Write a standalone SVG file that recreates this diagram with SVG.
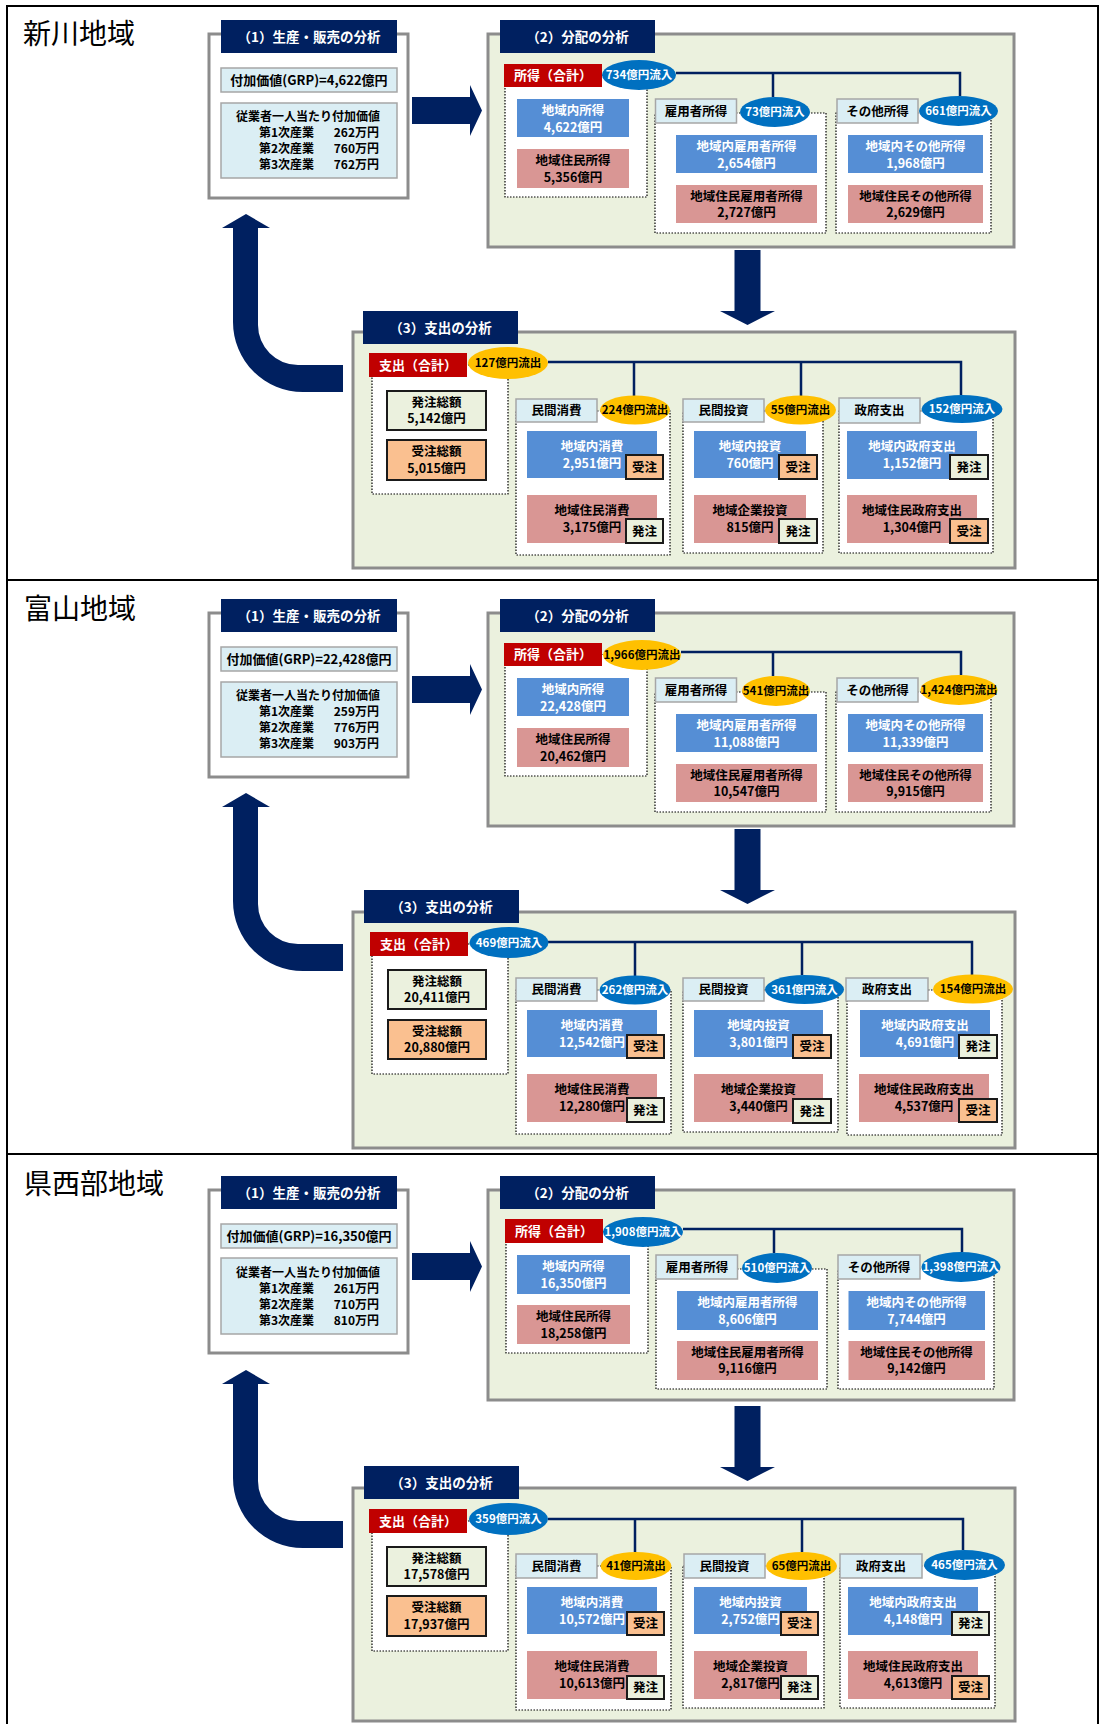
<svg xmlns="http://www.w3.org/2000/svg" width="1099" height="1724" viewBox="0 0 1099 1724">
<style>
.fw{fill:#fff;stroke:#8c8c8c;stroke-width:3}
.fr{fill:#ebf1de;stroke:#8c8c8c;stroke-width:3}
.nb{fill:#002060}
.lb{fill:#dbeef4;stroke:#a6a6a6;stroke-width:1.5}
.rd{fill:#c00000}
.eb{fill:#0070c0}
.ey{fill:#ffc000}
.bb{fill:#558ed5}
.pk{fill:#d99694}
.dt{fill:#fff;stroke:#000;stroke-width:1.2;stroke-dasharray:1.5 1.5}
.og{fill:#ebf1de;stroke:#1a1a1a;stroke-width:2}
.op{fill:#fac090;stroke:#1a1a1a;stroke-width:2}
.cn{fill:none;stroke:#002060;stroke-width:2.5}
.t{font-family:"Noto Sans CJK JP","Noto Sans CJK SC",sans-serif;font-weight:700;text-anchor:middle;fill:#000}
.w{fill:#fff}
.st{text-anchor:start}
.en{text-anchor:end}
.f14{font-size:13.5px}
.f13{font-size:13px}
.f12{font-size:12.5px}
.f11{font-size:12px}
.fe{font-size:11.5px}
.ttl{font-family:"Noto Sans CJK JP","Noto Sans CJK SC",sans-serif;font-size:28px;fill:#000}
</style>
<rect x="0" y="0" width="1099" height="1724" fill="#fff"/>
<g id="outer-frame" fill="none" stroke="#000" stroke-width="2">
<rect x="7" y="6" width="1091" height="1730"/>
<line x1="7" y1="580" x2="1099" y2="580"/>
<line x1="7" y1="1154" x2="1099" y2="1154"/>
</g>

<!-- ===== Section 1 ===== -->
<g id="s1">
<text class="ttl" x="23" y="44">新川地域</text>
<g id="s1-prod"><rect class="fw" x="209" y="34" width="199" height="164"/><rect class="nb" x="221" y="20" width="176" height="33"/><text class="t w f14" x="309" y="41.5">（1）生産・販売の分析</text></g>
<g id="s1-dist"><rect class="fr" x="488" y="34" width="526" height="213"/><rect class="nb" x="500" y="20" width="155" height="33"/><text class="t w f14" x="577.5" y="41.5">（2）分配の分析</text></g>
<g id="s1-exp"><rect class="fr" x="353" y="332" width="662" height="236"/><rect class="nb" x="363" y="311" width="155" height="33"/><text class="t w f14" x="440.5" y="332.5">（3）支出の分析</text></g>
<g id="s1-connectors">
<polygon class="nb" points="412,97 470,97 470,85 482,110.5 470,136 470,124 412,124"/>
<polygon class="nb" points="734.5,250 760.5,250 760.5,311 775,311 747.5,325 720,311 734.5,311"/>
<path class="nb" d="M233,228 V322 A70,70 0 0 0 303,392 H343 V365 H298 A40,40 0 0 1 258,325 V228 Z"/>
<polygon class="nb" points="222,228 270,228 246,214"/>
<path class="cn" d="M676,73 H960 V96 M773,73 V97"/>
<path class="cn" d="M548,362 H961 V395 M634,362 V396 M801,362 V396"/>
</g>
<g id="s1-grp"><rect class="lb" x="221" y="68" width="176" height="24"/><text class="t f13" x="309" y="84.5">付加価値(GRP)=4,622億円</text></g>
<g id="s1-perworker"><rect class="lb" x="221" y="103" width="176" height="75"/><text class="t f11" x="308" y="120.5">従業者一人当たり付加価値</text><text class="t f11 st" x="259" y="136.5">第1次産業</text><text class="t f11 en" x="379" y="136.5">262万円</text><text class="t f11 st" x="259" y="152.5">第2次産業</text><text class="t f11 en" x="379" y="152.5">760万円</text><text class="t f11 st" x="259" y="168.5">第3次産業</text><text class="t f11 en" x="379" y="168.5">762万円</text></g>
<g id="s1-inc"><rect class="dt" x="505" y="75.5" width="142" height="121.5"/><rect class="rd" x="504" y="64" width="98" height="23"/><text class="t w f13" x="553" y="80">所得（合計）</text><ellipse class="eb" cx="639" cy="75" rx="37" ry="15"/><text class="t w fe" x="639" y="79.2">734億円流入</text></g>
<g id="s1-inc-in"><rect class="bb" x="517" y="99" width="112" height="38"/><text class="t w f12" x="573" y="115">地域内所得</text><text class="t w f12" x="573" y="131.5">4,622億円</text></g>
<g id="s1-inc-res"><rect class="pk" x="517" y="149" width="112" height="39"/><text class="t f12" x="573" y="165">地域住民所得</text><text class="t f12" x="573" y="181.5">5,356億円</text></g>
<g id="s1-emp"><rect class="dt" x="655" y="113" width="171" height="120"/><rect class="lb" x="655.5" y="99" width="81" height="24"/><text class="t f12" x="696" y="115.5">雇用者所得</text><ellipse class="eb" cx="775" cy="112" rx="35" ry="15"/><text class="t w fe" x="775" y="116.2">73億円流入</text></g>
<g id="s1-emp-in"><rect class="bb" x="676" y="135" width="141" height="38"/><text class="t w f12" x="746.5" y="151">地域内雇用者所得</text><text class="t w f12" x="746.5" y="167.5">2,654億円</text></g>
<g id="s1-emp-res"><rect class="pk" x="676" y="185" width="141" height="38"/><text class="t f12" x="746.5" y="200.5">地域住民雇用者所得</text><text class="t f12" x="746.5" y="217">2,727億円</text></g>
<g id="s1-oth"><rect class="dt" x="836" y="113" width="155" height="120"/><rect class="lb" x="837" y="99" width="81" height="24"/><text class="t f12" x="877.5" y="115.5">その他所得</text><ellipse class="eb" cx="958.5" cy="111" rx="39.5" ry="15"/><text class="t w fe" x="958.5" y="115.2">661億円流入</text></g>
<g id="s1-oth-in"><rect class="bb" x="848" y="135" width="135" height="38"/><text class="t w f12" x="915.5" y="151">地域内その他所得</text><text class="t w f12" x="915.5" y="167.5">1,968億円</text></g>
<g id="s1-oth-res"><rect class="pk" x="848" y="185" width="135" height="38"/><text class="t f12" x="915.5" y="200.5">地域住民その他所得</text><text class="t f12" x="915.5" y="217">2,629億円</text></g>
<g id="s1-exp-total"><rect class="dt" x="372" y="365" width="136" height="129"/><rect class="rd" x="369" y="353" width="98" height="24"/><text class="t w f13" x="418" y="369.5">支出（合計）</text><ellipse class="ey" cx="508" cy="363" rx="40" ry="16"/><text class="t fe" x="508" y="367.2">127億円流出</text></g>
<g id="s1-order"><rect class="og" x="387" y="391" width="99" height="39"/><text class="t f12" x="436.5" y="406.5">発注総額</text><text class="t f12" x="436.5" y="423">5,142億円</text></g>
<g id="s1-recv"><rect class="op" x="387" y="440" width="99" height="40"/><text class="t f12" x="436.5" y="456">受注総額</text><text class="t f12" x="436.5" y="472.5">5,015億円</text></g>
<g id="s1-pc"><rect class="dt" x="516" y="411" width="154" height="144"/><rect class="lb" x="516" y="399" width="81" height="23"/><text class="t f12" x="556.5" y="415">民間消費</text><ellipse class="ey" cx="635" cy="410" rx="35" ry="14.5"/><text class="t fe" x="635" y="414.2">224億円流出</text></g>
<g id="s1-pc-in"><rect class="bb" x="527" y="431" width="130" height="47"/><text class="t w f12" x="592" y="451">地域内消費</text><text class="t w f12" x="592" y="467.5">2,951億円</text><rect class="op" x="626" y="455" width="37" height="24"/><text class="t f12" x="644.5" y="471.5">受注</text></g>
<g id="s1-pc-res"><rect class="pk" x="527" y="495" width="130" height="48"/><text class="t f12" x="592" y="515">地域住民消費</text><text class="t f12" x="592" y="532">3,175億円</text><rect class="og" x="626" y="519" width="37" height="24"/><text class="t f12" x="644.5" y="535.5">発注</text></g>
<g id="s1-pi"><rect class="dt" x="683" y="411" width="140" height="142"/><rect class="lb" x="683" y="399" width="81" height="23"/><text class="t f12" x="723.5" y="415">民間投資</text><ellipse class="ey" cx="800.5" cy="410" rx="35.5" ry="14.5"/><text class="t fe" x="800.5" y="414.2">55億円流出</text></g>
<g id="s1-pi-in"><rect class="bb" x="694" y="431" width="112" height="47"/><text class="t w f12" x="750" y="451">地域内投資</text><text class="t w f12" x="750" y="467.5">760億円</text><rect class="op" x="779" y="455" width="38" height="24"/><text class="t f12" x="798" y="471.5">受注</text></g>
<g id="s1-pi-res"><rect class="pk" x="694" y="495" width="112" height="48"/><text class="t f12" x="750" y="515">地域企業投資</text><text class="t f12" x="750" y="532">815億円</text><rect class="og" x="779" y="519" width="38" height="24"/><text class="t f12" x="798" y="535.5">発注</text></g>
<g id="s1-gov"><rect class="dt" x="839" y="411" width="154" height="142"/><rect class="lb" x="839" y="398" width="81" height="25"/><text class="t f12" x="879.5" y="415">政府支出</text><ellipse class="eb" cx="962" cy="409" rx="40.5" ry="14"/><text class="t w fe" x="962" y="413.2">152億円流入</text></g>
<g id="s1-gov-in"><rect class="bb" x="847" y="431" width="130" height="48"/><text class="t w f12" x="912" y="451">地域内政府支出</text><text class="t w f12" x="912" y="467.5">1,152億円</text><rect class="og" x="950" y="455" width="38" height="24"/><text class="t f12" x="969" y="471.5">発注</text></g>
<g id="s1-gov-res"><rect class="pk" x="847" y="495" width="130" height="48"/><text class="t f12" x="912" y="515">地域住民政府支出</text><text class="t f12" x="912" y="532">1,304億円</text><rect class="op" x="950" y="519" width="38" height="24"/><text class="t f12" x="969" y="535.5">受注</text></g>
</g>

<!-- ===== Section 2 ===== -->
<g id="s2" transform="translate(0,579)">
<text class="ttl" x="24" y="40">富山地域</text>
<g id="s2-prod"><rect class="fw" x="209" y="34" width="199" height="164"/><rect class="nb" x="221" y="20" width="176" height="33"/><text class="t w f14" x="309" y="41.5">（1）生産・販売の分析</text></g>
<g id="s2-dist"><rect class="fr" x="488" y="34" width="526" height="213"/><rect class="nb" x="500" y="20" width="155" height="33"/><text class="t w f14" x="577.5" y="41.5">（2）分配の分析</text></g>
<g id="s2-exp"><rect class="fr" x="353" y="333" width="662" height="236"/><rect class="nb" x="364" y="311" width="155" height="33"/><text class="t w f14" x="441.5" y="332.5">（3）支出の分析</text></g>
<g id="s2-connectors">
<polygon class="nb" points="412,97 470,97 470,85 482,110.5 470,136 470,124 412,124"/>
<polygon class="nb" points="734.5,250 760.5,250 760.5,311 775,311 747.5,325 720,311 734.5,311"/>
<path class="nb" d="M233,228 V322 A70,70 0 0 0 303,392 H343 V365 H298 A40,40 0 0 1 258,325 V228 Z"/>
<polygon class="nb" points="222,228 270,228 246,214"/>
<path class="cn" d="M681,73 H961 V96 M773,73 V97"/>
<path class="cn" d="M548,363 H972 V396 M635,363 V397 M802,363 V396"/>
</g>
<g id="s2-grp"><rect class="lb" x="221" y="68" width="176" height="24"/><text class="t f13" x="309" y="84.5">付加価値(GRP)=22,428億円</text></g>
<g id="s2-perworker"><rect class="lb" x="221" y="103" width="176" height="75"/><text class="t f11" x="308" y="120.5">従業者一人当たり付加価値</text><text class="t f11 st" x="259" y="136.5">第1次産業</text><text class="t f11 en" x="379" y="136.5">259万円</text><text class="t f11 st" x="259" y="152.5">第2次産業</text><text class="t f11 en" x="379" y="152.5">776万円</text><text class="t f11 st" x="259" y="168.5">第3次産業</text><text class="t f11 en" x="379" y="168.5">903万円</text></g>
<g id="s2-inc"><rect class="dt" x="505" y="75.5" width="142" height="121.5"/><rect class="rd" x="504" y="64" width="98" height="23"/><text class="t w f13" x="553" y="80">所得（合計）</text><ellipse class="ey" cx="642" cy="76" rx="39" ry="15"/><text class="t fe" x="642" y="80.2">1,966億円流出</text></g>
<g id="s2-inc-in"><rect class="bb" x="517" y="99" width="112" height="38"/><text class="t w f12" x="573" y="115">地域内所得</text><text class="t w f12" x="573" y="131.5">22,428億円</text></g>
<g id="s2-inc-res"><rect class="pk" x="517" y="149" width="112" height="39"/><text class="t f12" x="573" y="165">地域住民所得</text><text class="t f12" x="573" y="181.5">20,462億円</text></g>
<g id="s2-emp"><rect class="dt" x="655" y="113" width="171" height="120"/><rect class="lb" x="655.5" y="99" width="81" height="24"/><text class="t f12" x="696" y="115.5">雇用者所得</text><ellipse class="ey" cx="776" cy="112" rx="34" ry="15"/><text class="t fe" x="776" y="116.2">541億円流出</text></g>
<g id="s2-emp-in"><rect class="bb" x="676" y="135" width="141" height="38"/><text class="t w f12" x="746.5" y="151">地域内雇用者所得</text><text class="t w f12" x="746.5" y="167.5">11,088億円</text></g>
<g id="s2-emp-res"><rect class="pk" x="676" y="185" width="141" height="38"/><text class="t f12" x="746.5" y="200.5">地域住民雇用者所得</text><text class="t f12" x="746.5" y="217">10,547億円</text></g>
<g id="s2-oth"><rect class="dt" x="836" y="113" width="155" height="120"/><rect class="lb" x="837" y="99" width="81" height="24"/><text class="t f12" x="877.5" y="115.5">その他所得</text><ellipse class="ey" cx="959" cy="111" rx="38.5" ry="15"/><text class="t fe" x="959" y="115.2">1,424億円流出</text></g>
<g id="s2-oth-in"><rect class="bb" x="848" y="135" width="135" height="38"/><text class="t w f12" x="915.5" y="151">地域内その他所得</text><text class="t w f12" x="915.5" y="167.5">11,339億円</text></g>
<g id="s2-oth-res"><rect class="pk" x="848" y="185" width="135" height="38"/><text class="t f12" x="915.5" y="200.5">地域住民その他所得</text><text class="t f12" x="915.5" y="217">9,915億円</text></g>
<g id="s2-exp-total"><rect class="dt" x="372" y="365" width="136" height="130"/><rect class="rd" x="370" y="353" width="98" height="24"/><text class="t w f13" x="419" y="369.5">支出（合計）</text><ellipse class="eb" cx="509" cy="363.5" rx="39.5" ry="15.5"/><text class="t w fe" x="509" y="367.7">469億円流入</text></g>
<g id="s2-order"><rect class="og" x="388" y="391" width="98" height="39"/><text class="t f12" x="437" y="406.5">発注総額</text><text class="t f12" x="437" y="423">20,411億円</text></g>
<g id="s2-recv"><rect class="op" x="388" y="441" width="98" height="39"/><text class="t f12" x="437" y="456.5">受注総額</text><text class="t f12" x="437" y="473">20,880億円</text></g>
<g id="s2-pc"><rect class="dt" x="516" y="411" width="155" height="144"/><rect class="lb" x="516" y="399" width="81" height="23"/><text class="t f12" x="556.5" y="415">民間消費</text><ellipse class="eb" cx="635" cy="411" rx="35.5" ry="14.5"/><text class="t w fe" x="635" y="415.2">262億円流入</text></g>
<g id="s2-pc-in"><rect class="bb" x="527" y="431" width="130" height="47"/><text class="t w f12" x="592" y="451">地域内消費</text><text class="t w f12" x="592" y="467.5">12,542億円</text><rect class="op" x="627" y="456" width="37" height="23"/><text class="t f12" x="645.5" y="472">受注</text></g>
<g id="s2-pc-res"><rect class="pk" x="527" y="495" width="130" height="48"/><text class="t f12" x="592" y="515">地域住民消費</text><text class="t f12" x="592" y="532">12,280億円</text><rect class="og" x="627" y="519" width="37" height="24"/><text class="t f12" x="645.5" y="535.5">発注</text></g>
<g id="s2-pi"><rect class="dt" x="683" y="411" width="155" height="142"/><rect class="lb" x="683" y="399" width="81" height="23"/><text class="t f12" x="723.5" y="415">民間投資</text><ellipse class="eb" cx="804.5" cy="410.5" rx="39.5" ry="14.5"/><text class="t w fe" x="804.5" y="414.7">361億円流入</text></g>
<g id="s2-pi-in"><rect class="bb" x="694" y="431" width="129" height="47"/><text class="t w f12" x="758.5" y="451">地域内投資</text><text class="t w f12" x="758.5" y="467.5">3,801億円</text><rect class="op" x="793" y="456" width="38" height="23"/><text class="t f12" x="812" y="472">受注</text></g>
<g id="s2-pi-res"><rect class="pk" x="694" y="495" width="129" height="48"/><text class="t f12" x="758.5" y="515">地域企業投資</text><text class="t f12" x="758.5" y="532">3,440億円</text><rect class="og" x="793" y="520" width="38" height="24"/><text class="t f12" x="812" y="536.5">発注</text></g>
<g id="s2-gov"><rect class="dt" x="847" y="411" width="155" height="145"/><rect class="lb" x="846" y="399" width="82" height="23"/><text class="t f12" x="887" y="415">政府支出</text><ellipse class="ey" cx="973" cy="410" rx="40" ry="14.5"/><text class="t fe" x="973" y="414.2">154億円流出</text></g>
<g id="s2-gov-in"><rect class="bb" x="860" y="431" width="130" height="47"/><text class="t w f12" x="925" y="451">地域内政府支出</text><text class="t w f12" x="925" y="467.5">4,691億円</text><rect class="og" x="959" y="456" width="38" height="23"/><text class="t f12" x="978" y="472">発注</text></g>
<g id="s2-gov-res"><rect class="pk" x="859" y="495" width="130" height="48"/><text class="t f12" x="924" y="515">地域住民政府支出</text><text class="t f12" x="924" y="532">4,537億円</text><rect class="op" x="959" y="520" width="38" height="23"/><text class="t f12" x="978" y="536">受注</text></g>
</g>

<!-- ===== Section 3 ===== -->
<g id="s3" transform="translate(0,1156)">
<text class="ttl" x="24" y="38">県西部地域</text>
<g id="s3-prod"><rect class="fw" x="209" y="34" width="199" height="163"/><rect class="nb" x="221" y="20" width="176" height="33"/><text class="t w f14" x="309" y="41.5">（1）生産・販売の分析</text></g>
<g id="s3-dist"><rect class="fr" x="488" y="34" width="526" height="210"/><rect class="nb" x="500" y="20" width="155" height="33"/><text class="t w f14" x="577.5" y="41.5">（2）分配の分析</text></g>
<g id="s3-exp"><rect class="fr" x="353" y="332" width="662" height="233"/><rect class="nb" x="364" y="310" width="155" height="33"/><text class="t w f14" x="441.5" y="331.5">（3）支出の分析</text></g>
<g id="s3-connectors">
<polygon class="nb" points="412,97 470,97 470,85 482,110.5 470,136 470,124 412,124"/>
<polygon class="nb" points="734.5,250 760.5,250 760.5,311 775,311 747.5,325 720,311 734.5,311"/>
<path class="nb" d="M233,228 V322 A70,70 0 0 0 303,392 H343 V365 H298 A40,40 0 0 1 258,325 V228 Z"/>
<polygon class="nb" points="222,228 270,228 246,214"/>
<path class="cn" d="M683,73 H962 V96 M774,73 V97"/>
<path class="cn" d="M548,363 H963 V394 M635,363 V396 M802,363 V396"/>
</g>
<g id="s3-grp"><rect class="lb" x="221" y="68" width="176" height="24"/><text class="t f13" x="309" y="84.5">付加価値(GRP)=16,350億円</text></g>
<g id="s3-perworker"><rect class="lb" x="221" y="102" width="176" height="76"/><text class="t f11" x="308" y="120.5">従業者一人当たり付加価値</text><text class="t f11 st" x="259" y="136.5">第1次産業</text><text class="t f11 en" x="379" y="136.5">261万円</text><text class="t f11 st" x="259" y="152.5">第2次産業</text><text class="t f11 en" x="379" y="152.5">710万円</text><text class="t f11 st" x="259" y="168.5">第3次産業</text><text class="t f11 en" x="379" y="168.5">810万円</text></g>
<g id="s3-inc"><rect class="dt" x="506" y="75.5" width="142" height="121.5"/><rect class="rd" x="505" y="63" width="98" height="24"/><text class="t w f13" x="554" y="79.5">所得（合計）</text><ellipse class="eb" cx="643" cy="76" rx="40" ry="15"/><text class="t w fe" x="643" y="80.2">1,908億円流入</text></g>
<g id="s3-inc-in"><rect class="bb" x="517" y="99" width="113" height="39"/><text class="t w f12" x="573.5" y="115">地域内所得</text><text class="t w f12" x="573.5" y="131.5">16,350億円</text></g>
<g id="s3-inc-res"><rect class="pk" x="517" y="149" width="113" height="39"/><text class="t f12" x="573.5" y="165">地域住民所得</text><text class="t f12" x="573.5" y="181.5">18,258億円</text></g>
<g id="s3-emp"><rect class="dt" x="656" y="113" width="171" height="120"/><rect class="lb" x="656" y="99" width="81.5" height="24"/><text class="t f12" x="697" y="115.5">雇用者所得</text><ellipse class="eb" cx="777" cy="112" rx="35" ry="15"/><text class="t w fe" x="777" y="116.2">510億円流入</text></g>
<g id="s3-emp-in"><rect class="bb" x="677" y="135" width="141" height="39"/><text class="t w f12" x="747.5" y="151">地域内雇用者所得</text><text class="t w f12" x="747.5" y="167.5">8,606億円</text></g>
<g id="s3-emp-res"><rect class="pk" x="677" y="185" width="141" height="39"/><text class="t f12" x="747.5" y="200.5">地域住民雇用者所得</text><text class="t f12" x="747.5" y="217">9,116億円</text></g>
<g id="s3-oth"><rect class="dt" x="838" y="113" width="156" height="120"/><rect class="lb" x="838" y="99" width="82" height="24"/><text class="t f12" x="879" y="115.5">その他所得</text><ellipse class="eb" cx="961" cy="111" rx="39.5" ry="15"/><text class="t w fe" x="961" y="115.2">1,398億円流入</text></g>
<g id="s3-oth-in"><rect class="bb" x="848.5" y="135" width="136.5" height="39"/><text class="t w f12" x="916.5" y="151">地域内その他所得</text><text class="t w f12" x="916.5" y="167.5">7,744億円</text></g>
<g id="s3-oth-res"><rect class="pk" x="848.5" y="185" width="136.5" height="39"/><text class="t f12" x="916.5" y="200.5">地域住民その他所得</text><text class="t f12" x="916.5" y="217">9,142億円</text></g>
<g id="s3-exp-total"><rect class="dt" x="372" y="365" width="136" height="130"/><rect class="rd" x="369" y="353" width="98" height="24"/><text class="t w f13" x="418" y="369.5">支出（合計）</text><ellipse class="eb" cx="508.5" cy="363" rx="39.5" ry="16"/><text class="t w fe" x="508.5" y="367.2">359億円流入</text></g>
<g id="s3-order"><rect class="og" x="387" y="391" width="99" height="39"/><text class="t f12" x="436.5" y="406.5">発注総額</text><text class="t f12" x="436.5" y="423">17,578億円</text></g>
<g id="s3-recv"><rect class="op" x="387" y="440" width="99" height="40"/><text class="t f12" x="436.5" y="456">受注総額</text><text class="t f12" x="436.5" y="472.5">17,937億円</text></g>
<g id="s3-pc"><rect class="dt" x="516" y="410" width="155" height="144"/><rect class="lb" x="516" y="398" width="81" height="24"/><text class="t f12" x="556.5" y="414.5">民間消費</text><ellipse class="ey" cx="636" cy="410" rx="35.5" ry="14"/><text class="t fe" x="636" y="414.2">41億円流出</text></g>
<g id="s3-pc-in"><rect class="bb" x="527" y="431" width="130" height="47"/><text class="t w f12" x="592" y="451">地域内消費</text><text class="t w f12" x="592" y="467.5">10,572億円</text><rect class="op" x="627" y="456" width="37" height="23"/><text class="t f12" x="645.5" y="472">受注</text></g>
<g id="s3-pc-res"><rect class="pk" x="527" y="495" width="130" height="48"/><text class="t f12" x="592" y="515">地域住民消費</text><text class="t f12" x="592" y="532">10,613億円</text><rect class="og" x="627" y="520" width="37" height="23"/><text class="t f12" x="645.5" y="536">発注</text></g>
<g id="s3-pi"><rect class="dt" x="683" y="410" width="141" height="142"/><rect class="lb" x="684" y="398" width="81" height="24"/><text class="t f12" x="724.5" y="414.5">民間投資</text><ellipse class="ey" cx="801.5" cy="410" rx="35.5" ry="14"/><text class="t fe" x="801.5" y="414.2">65億円流出</text></g>
<g id="s3-pi-in"><rect class="bb" x="694" y="431" width="113" height="47"/><text class="t w f12" x="750.5" y="451">地域内投資</text><text class="t w f12" x="750.5" y="467.5">2,752億円</text><rect class="op" x="781" y="456" width="37" height="23"/><text class="t f12" x="799.5" y="472">受注</text></g>
<g id="s3-pi-res"><rect class="pk" x="694" y="495" width="113" height="48"/><text class="t f12" x="750.5" y="515">地域企業投資</text><text class="t f12" x="750.5" y="532">2,817億円</text><rect class="og" x="781" y="520" width="37" height="23"/><text class="t f12" x="799.5" y="536">発注</text></g>
<g id="s3-gov"><rect class="dt" x="840" y="410" width="155" height="142"/><rect class="lb" x="840" y="398" width="82" height="24"/><text class="t f12" x="881" y="414.5">政府支出</text><ellipse class="eb" cx="964.5" cy="409" rx="40.5" ry="15"/><text class="t w fe" x="964.5" y="413.2">465億円流入</text></g>
<g id="s3-gov-in"><rect class="bb" x="848" y="431" width="130" height="48"/><text class="t w f12" x="913" y="451">地域内政府支出</text><text class="t w f12" x="913" y="467.5">4,148億円</text><rect class="og" x="952" y="456" width="37" height="23"/><text class="t f12" x="970.5" y="472">発注</text></g>
<g id="s3-gov-res"><rect class="pk" x="848" y="495" width="130" height="48"/><text class="t f12" x="913" y="515">地域住民政府支出</text><text class="t f12" x="913" y="532">4,613億円</text><rect class="op" x="952" y="520" width="37" height="23"/><text class="t f12" x="970.5" y="536">受注</text></g>
</g>
</svg>
